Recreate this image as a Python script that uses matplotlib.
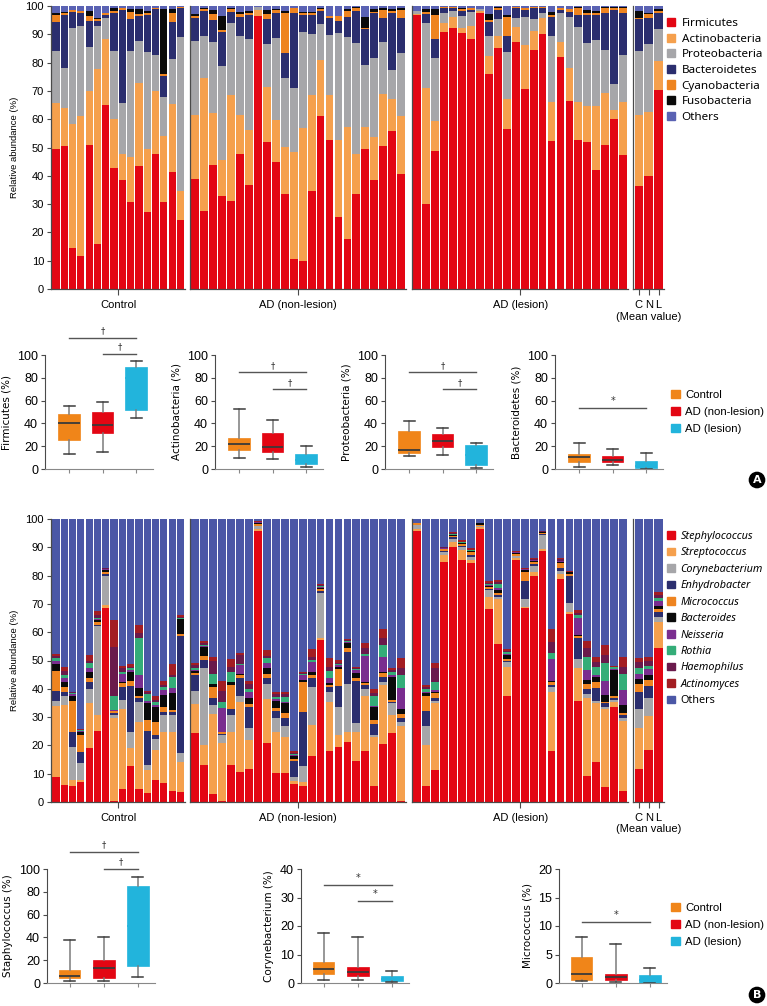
import numpy as np
import matplotlib
matplotlib.use('Agg')
import matplotlib.pyplot as plt
from matplotlib.patches import Patch

plt.rcParams['font.family'] = ['Liberation Sans Narrow', 'Liberation Sans', 'DejaVu Sans']

# ---------------- data ----------------
phylum_names = ['Firmicutes', 'Actinobacteria', 'Proteobacteria', 'Bacteroidetes',
                'Cyanobacteria', 'Fusobacteria', 'Others']
phylum_colors = ['#e30613', '#f5a04d', '#a6a6a9', '#2b2e6e', '#ee8420', '#0a0a0a', '#5a62b3']

genus_names = ['Stephylococcus', 'Streptococcus', 'Corynebacterium', 'Enhydrobacter',
               'Micrococcus', 'Bacteroides', 'Neisseria', 'Rothia', 'Haemophilus',
               'Actinomyces', 'Others']
genus_colors = ['#e30613', '#f5a04d', '#a6a6a9', '#2b2e6e', '#ee8420', '#0a0a0a',
                '#7a2d8f', '#34ad78', '#6a1a4c', '#a31d22', '#4b57a6']

group_labels = ['Control', 'AD (non-lesion)', 'AD (lesion)']
mean_labels = ['C', 'N', 'L']

# cumulative tops (%) of each phylum layer, bottom to top; "Others" fills to 100
phylum_control = [
    [49.4, 65.9, 84.1, 94.5, 96.8, 97.6], [50.4, 64.1, 78.2, 96.8, 97.4, 98.0],
    [14.5, 58.4, 92.1, 98.0, 98.6, 98.6], [11.8, 61.3, 93.1, 97.6, 98.2, 98.2],
    [50.9, 69.8, 85.4, 94.8, 96.6, 98.4], [15.9, 77.8, 92.9, 94.8, 95.3, 95.6],
    [65.1, 88.2, 95.6, 96.8, 97.4, 97.6], [42.9, 60.1, 84.2, 97.6, 98.4, 99.2],
    [38.4, 47.8, 65.6, 98.6, 99.2, 99.2], [30.6, 46.8, 84.2, 95.3, 98.0, 98.8],
    [43.3, 72.9, 87.8, 96.5, 97.0, 98.8], [27.1, 49.4, 83.9, 96.8, 97.6, 98.2],
    [47.8, 70.0, 82.7, 98.8, 99.2, 99.2], [30.6, 53.9, 68.0, 75.3, 76.0, 98.8],
    [41.5, 65.3, 81.2, 94.5, 97.4, 98.8], [24.5, 34.5, 88.9, 99.2, 99.8, 99.8]]
phylum_nonlesion = [
    [38.8, 61.5, 87.8, 95.6, 96.6, 97.0], [27.4, 74.7, 89.5, 98.2, 98.8, 99.2],
    [43.9, 62.1, 87.4, 95.0, 97.2, 98.6], [32.7, 45.6, 78.9, 90.7, 91.5, 96.5],
    [31.2, 68.6, 94.1, 98.0, 98.8, 99.2], [47.8, 61.5, 89.4, 96.2, 97.0, 98.0],
    [36.8, 56.2, 88.2, 96.8, 97.4, 98.2], [96.5, 98.6, 99.5, 99.5, 99.5, 99.5],
    [51.8, 71.3, 86.5, 95.4, 97.2, 98.6], [44.7, 59.8, 88.6, 97.4, 98.6, 99.0],
    [33.6, 50.1, 74.5, 83.5, 97.6, 98.4], [10.6, 48.4, 71.2, 97.6, 99.2, 99.4],
    [9.8, 56.8, 90.9, 96.8, 97.6, 98.0], [34.5, 68.4, 90.1, 96.8, 97.4, 98.0],
    [61.2, 80.9, 93.6, 98.2, 98.8, 99.2], [52.5, 68.4, 89.8, 95.6, 96.6, 96.6],
    [25.3, 52.5, 90.4, 94.7, 96.5, 96.5], [17.8, 57.4, 88.9, 96.2, 98.2, 98.8],
    [33.5, 47.8, 87.1, 98.2, 99.2, 99.5], [49.4, 57.2, 79.2, 91.8, 92.4, 96.0],
    [38.6, 53.6, 81.8, 97.4, 98.0, 98.8], [50.7, 68.8, 87.4, 95.9, 98.6, 99.2],
    [55.9, 67.1, 77.4, 97.4, 98.2, 99.0], [40.5, 61.2, 83.5, 95.9, 98.6, 99.2]]
phylum_lesion = [
    [96.8, 97.2, 98.4, 98.4, 98.4, 98.4], [30.0, 71.2, 93.9, 97.2, 98.0, 98.8],
    [48.8, 59.2, 81.5, 88.4, 96.8, 98.8], [90.9, 94.1, 97.4, 99.2, 99.6, 99.6],
    [92.4, 96.2, 98.4, 99.2, 99.6, 99.6], [90.6, 92.4, 96.5, 98.2, 98.8, 99.4],
    [88.4, 93.1, 97.8, 98.6, 99.2, 99.2], [97.4, 98.2, 98.8, 98.8, 98.8, 98.8],
    [76.0, 82.4, 89.5, 94.5, 95.0, 97.2], [85.0, 89.5, 95.4, 98.6, 99.2, 99.6],
    [56.6, 67.2, 83.6, 89.5, 96.0, 96.8], [87.2, 92.7, 95.9, 99.2, 99.6, 99.6],
    [70.6, 86.2, 96.2, 98.6, 99.2, 99.2], [84.5, 91.2, 95.4, 99.2, 99.6, 99.6],
    [90.0, 95.6, 97.4, 99.2, 99.8, 99.8], [52.4, 66.0, 89.4, 96.2, 96.8, 98.0],
    [81.9, 87.2, 97.4, 98.6, 99.2, 99.2], [66.5, 78.2, 96.2, 98.0, 98.9, 98.9],
    [52.6, 66.2, 92.7, 96.8, 99.2, 99.6], [51.8, 64.7, 86.8, 96.8, 97.6, 98.6],
    [41.9, 64.8, 88.0, 96.8, 97.4, 98.2], [50.9, 69.2, 84.5, 97.6, 99.2, 99.6],
    [60.0, 63.3, 72.4, 98.6, 99.2, 99.6], [47.4, 66.0, 82.7, 97.4, 99.2, 99.6]]
phylum_mean = [
    [36.5, 61.5, 84.1, 95.3, 95.9, 98.2], [40.1, 62.4, 86.5, 95.9, 97.2, 97.6],
    [70.4, 80.6, 91.9, 97.4, 98.4, 99.0]]

# cumulative tops (%) of each genus layer, bottom to top; "Others" fills to 100
genus_control = [
    [9.0, 34.0, 35.7, 39.2, 46.3, 48.8, 49.8, 50.8, 51.6, 52.2],
    [6.1, 34.3, 37.6, 39.0, 40.8, 42.5, 43.7, 44.7, 46.3, 47.8],
    [5.5, 7.9, 19.6, 24.7, 35.7, 37.6, 38.1, 38.4, 38.8, 39.0],
    [7.0, 7.6, 13.7, 17.5, 23.5, 24.6, 25.0, 25.3, 25.6, 25.9],
    [19.0, 35.1, 40.0, 42.3, 43.7, 46.1, 47.5, 49.0, 49.8, 51.9],
    [25.1, 30.6, 62.3, 62.7, 63.5, 64.3, 64.7, 65.1, 66.0, 67.5],
    [68.4, 69.6, 79.9, 80.4, 81.1, 81.9, 82.2, 82.4, 82.6, 82.7],
    [0.3, 29.6, 30.8, 31.4, 32.0, 32.3, 32.5, 37.3, 54.9, 64.3],
    [4.7, 32.9, 36.1, 40.8, 42.0, 42.5, 45.1, 46.1, 47.2, 48.1],
    [12.6, 19.0, 24.9, 41.0, 42.8, 46.1, 46.7, 47.2, 47.8, 48.6],
    [4.7, 28.1, 35.5, 36.7, 37.6, 40.4, 44.9, 58.0, 59.8, 62.5],
    [3.2, 11.4, 12.9, 25.1, 29.0, 34.9, 35.7, 38.1, 38.8, 39.2],
    [7.9, 18.4, 22.3, 23.5, 28.2, 33.4, 34.3, 35.3, 36.1, 37.3],
    [6.7, 24.7, 30.8, 31.7, 33.4, 37.8, 39.6, 40.8, 41.5, 42.8],
    [3.8, 24.7, 30.8, 31.7, 32.5, 38.5, 40.2, 44.0, 44.8, 48.6],
    [3.5, 14.1, 17.3, 58.8, 59.2, 64.5, 64.8, 65.0, 65.3, 66.0]]
genus_nonlesion = [
    [24.3, 34.5, 39.2, 44.7, 45.5, 46.3, 46.7, 47.5, 48.4, 49.2],
    [12.9, 20.2, 47.5, 50.2, 51.7, 54.6, 55.0, 55.5, 56.1, 56.9],
    [2.8, 31.0, 34.3, 36.7, 40.8, 41.6, 41.6, 45.2, 49.8, 51.1],
    [0.3, 20.8, 23.7, 24.0, 24.6, 24.8, 33.1, 35.5, 39.2, 42.8],
    [13.2, 24.9, 30.8, 32.8, 41.4, 42.5, 42.5, 46.1, 47.8, 50.5],
    [10.6, 35.3, 37.6, 43.9, 44.7, 45.2, 48.4, 48.8, 51.9, 52.8],
    [11.6, 22.0, 26.3, 33.4, 34.7, 36.7, 39.0, 40.0, 41.6, 42.8],
    [95.7, 96.6, 97.5, 97.7, 98.4, 98.6, 98.8, 98.9, 99.0, 99.2],
    [20.8, 36.4, 41.7, 43.7, 45.2, 47.5, 49.0, 50.8, 51.5, 53.7],
    [10.2, 24.7, 29.6, 32.3, 33.1, 35.7, 36.3, 37.0, 38.1, 39.0],
    [10.2, 22.9, 27.0, 29.6, 31.4, 34.9, 35.3, 37.0, 38.1, 39.0],
    [6.3, 7.3, 9.0, 14.6, 15.3, 16.1, 16.6, 16.9, 17.3, 17.9],
    [5.5, 6.9, 12.6, 31.7, 42.5, 43.1, 44.9, 45.1, 45.5, 45.8],
    [16.1, 27.3, 40.8, 43.7, 44.7, 45.8, 49.4, 50.2, 51.4, 54.1],
    [57.2, 58.0, 74.0, 74.5, 75.4, 75.7, 76.0, 76.2, 76.6, 77.0],
    [17.9, 35.3, 38.7, 40.8, 41.4, 42.0, 43.9, 46.3, 47.8, 50.8],
    [19.6, 23.5, 33.7, 41.0, 46.9, 47.8, 48.3, 48.6, 49.0, 50.2],
    [21.2, 24.7, 41.6, 53.1, 54.3, 56.1, 56.5, 56.8, 57.2, 57.6],
    [14.6, 24.7, 27.9, 42.8, 43.7, 45.5, 46.7, 47.0, 47.3, 47.8],
    [18.1, 37.3, 39.8, 41.4, 42.0, 42.5, 51.7, 52.2, 54.5, 56.1],
    [5.5, 22.8, 23.5, 27.5, 29.0, 33.4, 34.0, 37.3, 38.4, 40.0],
    [20.4, 41.4, 42.5, 44.3, 45.5, 46.1, 51.4, 55.5, 57.8, 61.0],
    [24.3, 30.8, 34.9, 35.5, 36.1, 44.3, 44.8, 46.1, 46.6, 47.2],
    [0.5, 27.0, 28.1, 29.8, 31.0, 32.9, 40.2, 44.7, 47.2, 51.0]]
genus_lesion = [
    [95.8, 96.6, 97.8, 98.0, 98.6, 98.6, 98.6, 98.6, 98.6, 98.6],
    [5.5, 20.2, 27.0, 32.0, 37.3, 38.4, 38.8, 40.0, 40.6, 41.4],
    [11.4, 34.9, 35.7, 36.7, 38.4, 39.0, 39.6, 42.3, 47.2, 49.0],
    [84.8, 87.2, 88.4, 88.7, 89.3, 89.5, 89.7, 89.8, 90.0, 90.1],
    [90.1, 91.9, 93.1, 93.5, 94.0, 94.3, 94.5, 94.6, 94.9, 95.4],
    [85.4, 89.0, 90.1, 90.6, 91.2, 91.4, 91.6, 91.7, 92.0, 92.5],
    [84.5, 85.4, 86.6, 87.4, 88.4, 88.6, 88.8, 88.9, 89.2, 89.8],
    [96.6, 97.2, 97.7, 97.7, 97.9, 98.7, 98.7, 98.7, 98.7, 98.7],
    [68.2, 72.3, 74.9, 75.4, 76.0, 76.4, 76.6, 76.9, 77.4, 78.0],
    [55.7, 71.7, 72.5, 73.3, 74.0, 74.9, 75.7, 76.9, 77.8, 78.6],
    [37.6, 47.8, 49.4, 49.8, 50.5, 51.9, 52.3, 52.9, 53.5, 54.1],
    [85.4, 86.3, 86.8, 87.1, 87.7, 88.0, 88.2, 88.3, 88.5, 88.8],
    [68.4, 69.0, 71.9, 78.0, 81.1, 81.9, 82.2, 82.3, 82.5, 82.7],
    [79.9, 81.1, 83.4, 84.1, 84.8, 85.3, 85.5, 85.6, 85.9, 86.3],
    [88.7, 89.5, 94.2, 94.6, 95.2, 95.4, 95.5, 95.5, 95.6, 95.8],
    [17.9, 38.8, 40.8, 41.4, 42.3, 42.8, 50.5, 52.5, 56.4, 61.1],
    [78.7, 80.7, 81.6, 82.7, 84.3, 84.8, 85.1, 85.3, 85.8, 86.3],
    [66.3, 67.0, 70.2, 79.9, 80.7, 81.1, 81.2, 81.3, 81.4, 81.5],
    [35.7, 47.5, 50.5, 57.8, 58.6, 59.0, 64.9, 66.0, 66.7, 67.8],
    [9.3, 36.7, 38.1, 40.0, 41.6, 43.1, 46.7, 51.4, 54.5, 56.9],
    [14.3, 34.9, 35.7, 40.2, 42.5, 44.3, 44.9, 47.8, 49.6, 51.4],
    [5.2, 32.9, 33.7, 34.9, 35.5, 37.8, 42.8, 49.0, 51.9, 55.5],
    [33.4, 35.3, 36.1, 36.7, 37.3, 46.7, 47.1, 47.6, 47.8, 48.1],
    [3.8, 28.7, 29.8, 30.8, 31.4, 34.3, 39.6, 45.1, 47.8, 51.1]]
genus_mean = [
    [11.6, 26.0, 32.7, 39.0, 41.8, 43.6, 45.1, 47.5, 49.5, 51.0],
    [18.3, 30.5, 36.6, 41.1, 43.1, 44.9, 46.9, 48.2, 49.8, 51.2],
    [54.3, 63.6, 65.4, 67.3, 68.1, 69.3, 71.1, 72.0, 73.1, 74.3]]

# box stats per group: [whisker low, q1, median, q3, whisker high]
box_groups = ['Control', 'AD (non-lesion)', 'AD (lesion)']
box_colors = ['#f08519', '#e30613', '#22b4dc']
box_firmicutes = [[13.5, 25.5, 40, 48.5, 55.5], [14.5, 32, 39, 50, 59], [45, 52, 80, 89.5, 95]]
box_actinobacteria = [[10, 16.5, 22, 27.5, 53], [9, 14.5, 19, 32, 43], [2, 4, 8, 13.5, 20.5]]
box_proteobacteria = [[11, 14, 17, 33, 42], [12, 19.5, 24.5, 31, 36], [1, 3.5, 12, 21, 23]]
box_bacteroidetes = [[2, 6, 10.5, 13.5, 23], [3.5, 6, 8, 11, 17.5], [0, 0.5, 3, 7, 14]]
box_staphylococcus = [[2, 4, 6.5, 11, 38], [2, 4.5, 13.5, 20, 40.5], [5.5, 15, 50, 85.5, 93]]
box_corynebacterium = [[1.2, 3.1, 5, 7.3, 17.5], [1.2, 2.5, 4, 5.7, 16.3], [0.3, 0.8, 1.5, 2.3, 4.3]]
box_micrococcus = [[0.3, 0.6, 1.5, 4.5, 8.1], [0.2, 0.6, 1.1, 1.6, 6.9], [0, 0, 0.5, 1.4, 2.7]]

# ---------------- figure ----------------
W, H = 767, 1006
fig = plt.figure(figsize=(W / 100, H / 100), dpi=100)

def px_axes(left, top, width, height):
    return fig.add_axes([left / W, 1 - (top + height) / H, width / W, height / H])

spine_col = '#4a4a4a'

def stacked_panel(top, groups, colors, names, leg_top, italic, leg_size, leg_space):
    lefts = [51, 190, 412, 633]
    widths = [134, 216, 216, 31]
    for i, tops in enumerate(groups):
        ax = px_axes(lefts[i], top, widths[i], 283)
        tops = np.asarray(tops, dtype=float)
        n = len(tops)
        edges = np.column_stack([np.zeros(n), tops, np.full(n, 100.0)])
        x = np.arange(n)
        for k, col in enumerate(colors):
            ax.bar(x, edges[:, k + 1] - edges[:, k], bottom=edges[:, k],
                   width=0.87, color=col, linewidth=0)
        ax.set_xlim(-0.6, n - 0.45)
        ax.set_ylim(0, 100)
        for s in ['top', 'right']:
            ax.spines[s].set_visible(False)
        for s in ['left', 'bottom']:
            ax.spines[s].set_color(spine_col)
            ax.spines[s].set_linewidth(0.9)
        if i == 0:
            ax.set_yticks(np.arange(0, 101, 10))
            ax.tick_params(axis='y', labelsize=8, length=3, width=0.8, color=spine_col, pad=2)
            ax.set_ylabel('Relative abundance (%)', fontsize=6.8, labelpad=5,
                          family=['Liberation Sans', 'DejaVu Sans'])
        else:
            ax.set_yticks([])
        if i < 3:
            ax.set_xticks([(n - 1) / 2])
            ax.set_xticklabels([group_labels[i]])
        else:
            ax.set_xticks(x)
            ax.set_xticklabels(mean_labels)
            ax.set_xlabel('(Mean value)', fontsize=8, labelpad=1)
        ax.tick_params(axis='x', labelsize=8, length=4, width=0.8, color=spine_col, pad=4)
    handles = [Patch(color=c) for c in colors]
    leg = fig.legend(handles, names, loc='upper left',
                     bbox_to_anchor=(667 / W, 1 - leg_top / H), frameon=False,
                     handlelength=0.7, handleheight=0.7, handletextpad=0.55,
                     labelspacing=leg_space, borderaxespad=0, borderpad=0,
                     prop={'family': ['Noto Sans', 'DejaVu Sans'], 'size': leg_size})
    if italic:
        for t in leg.get_texts()[:-1]:
            t.set_style('italic')

def box_panel(left, top, data, ylabel, ymax, ystep, sig_lines, xoff):
    ax = px_axes(left, top, 108, 114)
    stats = []
    for d in data:
        stats.append(dict(whislo=d[0], q1=d[1], med=d[2], q3=d[3], whishi=d[4]))
    bp = ax.bxp(stats, positions=[1, 2, 3], widths=0.64, patch_artist=True,
                showfliers=False, capwidths=0.32,
                whiskerprops=dict(color='#7a7a7a', linewidth=1.1),
                capprops=dict(color='#3c3c3c', linewidth=1.1),
                medianprops=dict(color='#3a3a3a', linewidth=1.3))
    for k, b in enumerate(bp['boxes']):
        b.set_facecolor(box_colors[k])
        b.set_edgecolor(box_colors[k])
        b.set_linewidth(0.5)
    # lesion median not drawn in the original
    bp['medians'][2].set_color(box_colors[2])
    ax.set_xlim(xoff, 3.5)
    ax.set_ylim(0, ymax)
    ax.set_yticks(np.arange(0, ymax + 0.01, ystep))
    ax.set_xticks([1, 2, 3])
    ax.set_xticklabels([])
    ax.tick_params(axis='x', length=3, width=0.8, color='#888888')
    ax.tick_params(axis='y', labelsize=9, length=3, width=0.8, color=spine_col, pad=2)
    for s in ['top', 'right']:
        ax.spines[s].set_visible(False)
    ax.spines['left'].set_color(spine_col)
    ax.spines['bottom'].set_color('#888888')
    ax.spines['left'].set_bounds(0, ymax)
    ax.set_ylabel(ylabel, fontsize=7.5, labelpad=4, family=['DejaVu Sans'])
    for (x0, x1, yv, mark) in sig_lines:
        ax.plot([x0, x1], [yv, yv], color='#555555', lw=1.0, clip_on=False)
        ax.text((x0 + x1) / 2, yv + ymax * 0.02, mark, ha='center', va='bottom',
                fontsize=6 if mark == '\u2020' else 7, color='#333333',
                family=['DejaVu Sans'])

def box_legend(top):
    handles = [Patch(color=c) for c in box_colors]
    fig.legend(handles, box_groups, loc='upper left',
               bbox_to_anchor=(671 / W, 1 - top / H), frameon=False,
               handlelength=0.75, handleheight=0.75, handletextpad=0.5,
               labelspacing=0.6, borderaxespad=0, borderpad=0,
               prop={'size': 8.2})

def panel_tag(x, y, letter):
    fig.text(x / W, 1 - y / H, letter, ha='center', va='center', color='white',
             fontsize=8, fontweight='bold', family=['DejaVu Sans'],
             bbox=dict(boxstyle='circle,pad=0.3', fc='black', ec='none'))

dag = '\u2020'

# panel A
stacked_panel(6, [phylum_control, phylum_nonlesion, phylum_lesion, phylum_mean],
              phylum_colors, phylum_names, 18, False, 8.4, 0.38)
box_panel(45, 355, box_firmicutes, 'Firmicutes (%)', 100, 20,
          [(1, 3, 115, dag), (2, 3, 101, dag)], 0.28)
box_panel(215, 355, box_actinobacteria, 'Actinobacteria (%)', 100, 20,
          [(1, 3, 85, dag), (2, 3, 70, dag)], 0.28)
box_panel(385, 355, box_proteobacteria, 'Proteobacteria (%)', 100, 20,
          [(1, 3, 85, dag), (2, 3, 70, dag)], 0.28)
box_panel(555, 355, box_bacteroidetes, 'Bacteroidetes (%)', 100, 20,
          [(1, 3, 53.5, '*')], 0.28)
box_legend(390)
panel_tag(757, 480, 'A')

# panel B
stacked_panel(519, [genus_control, genus_nonlesion, genus_lesion, genus_mean],
              genus_colors, genus_names, 531, True, 7.8, 0.5)
box_panel(47, 869, box_staphylococcus, 'Staphylococcus (%)', 100, 20,
          [(1, 3, 115, dag), (2, 3, 100, dag)], 0.34)
box_panel(301, 869, box_corynebacterium, 'Corynebacterium (%)', 40, 10,
          [(1, 3, 34.4, '*'), (2, 3, 28.8, '*')], 0.34)
box_panel(559, 869, box_micrococcus, 'Micrococcus (%)', 20, 5,
          [(1, 3, 10.7, '*')], 0.34)
box_legend(903)
panel_tag(757, 995, 'B')

fig.savefig('out.png', dpi=100)
